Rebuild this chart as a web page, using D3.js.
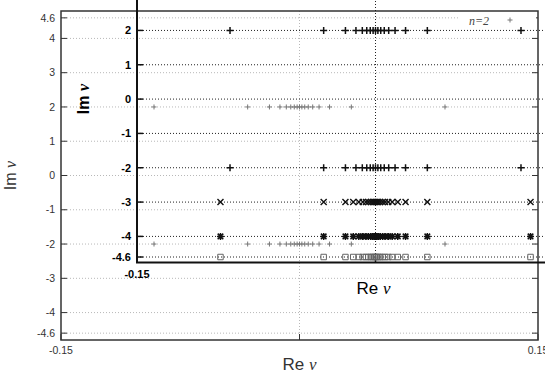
<!DOCTYPE html>
<html><head><meta charset="utf-8">
<script src="https://cdn.jsdelivr.net/npm/d3@7"></script>
<style>body{margin:0;background:#fff}svg{display:block}</style>
</head><body><svg id="c" width="545" height="382"></svg>
<script>
// ---- data ----
const yTicks = [4.6, 4, 3, 2, 1, 0, -1, -2, -3, -4, -4.6];
const xTickLabels = [-0.15, 0.15];
const xGridVals = [0];
// n=2 roots (Re parts), rows at Im = +2 and -2
const reN2 = [-0.0915, -0.0326, -0.0189, -0.0123, -0.0083, -0.0055, -0.0033, -0.0015, 0,
              0.0015, 0.0033, 0.0055, 0.0083, 0.0123, 0.0189, 0.0326, 0.0915];
const imN2 = [2, -2];
// wider rows
const reWide = [-0.0975, -0.0326, -0.0189, -0.0140, -0.0105, -0.0080, -0.0060, -0.0045, -0.0030, -0.0018, -0.0008, 0,
                0.0008, 0.0018, 0.0030, 0.0045, 0.0060, 0.0080, 0.0105, 0.0140, 0.0189, 0.0326, 0.0975];
const imN3 = [-3];
const imN4 = [-4];
const imN5 = [-4.6];
const legendLabel = "n=2";

// ---- custom symbols ----
const symPlus = {draw(ctx, size){const s=Math.sqrt(size)/2; ctx.moveTo(-s,0);ctx.lineTo(s,0);ctx.moveTo(0,-s);ctx.lineTo(0,s);}};
const symX = {draw(ctx, size){const s=Math.sqrt(size)/2; ctx.moveTo(-s,-s);ctx.lineTo(s,s);ctx.moveTo(-s,s);ctx.lineTo(s,-s);}};
const symStar = {draw(ctx, size){const s=Math.sqrt(size)/2; const t=s*0.8;
  ctx.moveTo(-s,0);ctx.lineTo(s,0);ctx.moveTo(0,-s);ctx.lineTo(0,s);
  ctx.moveTo(-t,-t);ctx.lineTo(t,t);ctx.moveTo(-t,t);ctx.lineTo(t,-t);}};
const symBox = {draw(ctx, size){const s=Math.sqrt(size)/2; ctx.rect(-s,-s,2*s,2*s);}};

const svg = d3.select("#c");

function rows(res, ims){ const out=[]; ims.forEach(im=>res.forEach(re=>out.push([re,im]))); return out; }

function panel(g, x, y, st){
  const [x0,x1] = x.range(); const [yb,yt] = y.range();
  const left=x0, right=Math.min(x1,545), bottom=yb, top=Math.max(yt,-5);
  g.selectAll(".gy").data(yTicks).join("line")
    .attr("x1",left).attr("x2",right).attr("y1",d=>y(d)).attr("y2",d=>y(d))
    .attr("stroke",st.grid).attr("stroke-width",1).attr("stroke-dasharray",st.dash);
  g.selectAll(".gx").data(xGridVals).join("line")
    .attr("x1",d=>x(d)).attr("x2",d=>x(d)).attr("y1",top).attr("y2",bottom)
    .attr("stroke",st.grid).attr("stroke-width",1).attr("stroke-dasharray",st.dash);
}

function frameAndText(g, x, y, st){
  const [x0,x1] = x.range(); const [yb,yt] = y.range();
  const right=x1, top=yt;
  g.append("rect").attr("x",x0).attr("y",top).attr("width",x1-x0).attr("height",yb-top)
    .attr("fill","none").attr("stroke",st.frame).attr("stroke-width",st.fw);
  yTicks.forEach(v=>{
    g.append("line").attr("x1",x0).attr("x2",x0+6).attr("y1",y(v)).attr("y2",y(v)).attr("stroke",st.frame).attr("stroke-width",st.tw);
    g.append("line").attr("x1",right).attr("x2",right-6).attr("y1",y(v)).attr("y2",y(v)).attr("stroke",st.frame).attr("stroke-width",st.tw);
  });
  xTickLabels.concat(xGridVals).forEach(v=>{
    g.append("line").attr("x1",x(v)).attr("x2",x(v)).attr("y1",yb).attr("y2",yb-6).attr("stroke",st.frame).attr("stroke-width",st.tw);
  });
  g.selectAll(".yl").data(yTicks).join("text")
    .attr("x",x0-st.labGap).attr("y",d=>y(d)).attr("dy","0.35em").attr("text-anchor","end")
    .attr("font-family","Liberation Sans, Arial, sans-serif").attr("font-size",st.fs).attr("font-weight",st.fwt)
    .attr("fill",st.text).text(d=>String(d));
  g.selectAll(".xl").data(xTickLabels).join("text")
    .attr("x",d=>x(d)).attr("y",yb+st.xlab).attr("text-anchor","middle")
    .attr("font-family","Liberation Sans, Arial, sans-serif").attr("font-size",st.fs).attr("font-weight",st.fwt)
    .attr("fill",st.text).text(d=>String(d));
  const xt = g.append("text").attr("x",x(0)+st.reDx).attr("y",yb+st.reDy).attr("text-anchor","middle")
    .attr("font-family","Liberation Sans, Arial, sans-serif").attr("font-size",17).attr("fill",st.text);
  xt.append("tspan").text("Re ");
  xt.append("tspan").attr("font-family","Liberation Serif, Times New Roman, serif").attr("font-style","italic").attr("font-size",17).text("ν");
  const yt2 = g.append("text").attr("transform",`translate(${st.imX},${y(0)}) rotate(-90)`).attr("text-anchor","middle")
    .attr("font-family","Liberation Sans, Arial, sans-serif").attr("font-size",16).attr("font-weight",st.imW).attr("fill",st.text);
  yt2.append("tspan").text("Im ");
  yt2.append("tspan").attr("font-family","Liberation Serif, Times New Roman, serif").attr("font-style","italic").attr("font-size",16).text("ν");
}

function points(g, x, y, data, type, size, color, sw){
  g.append("g").selectAll("path").data(data).join("path")
    .attr("transform",d=>`translate(${x(d[0])},${y(d[1])})`)
    .attr("d",d3.symbol().type(type).size(size))
    .attr("fill","none").attr("stroke",color).attr("stroke-width",sw);
}

// ---- outer (light) chart ----
const xo = d3.scaleLinear([-0.15,0.15],[61,538]);
const yo = d3.scaleLinear([-4.8,4.8],[340,11]);
const go = svg.append("g");
const stO = {grid:"#b8b8b8", dash:"1,2", frame:"#333", fw:1.5, tw:1, text:"#333", fs:10.5, fwt:"normal", labGap:6, xlab:14, reDx:0, reDy:30, imX:16, imW:"normal"};
panel(go, xo, yo, stO);
frameAndText(go, xo, yo, stO);
points(go, xo, yo, rows(reN2, imN2), symPlus, 25, "#777", 1);
// legend
go.append("rect").attr("x",458).attr("y",12).attr("width",78).attr("height",16).attr("fill","#fff");
go.append("text").attr("x",489).attr("y",25).attr("text-anchor","end")
  .attr("font-family","Liberation Serif, Times New Roman, serif").attr("font-style","italic").attr("font-size",12)
  .attr("fill","#444").text(legendLabel);
go.append("path").attr("transform","translate(510,20)").attr("d",d3.symbol().type(symPlus).size(25))
  .attr("fill","none").attr("stroke","#777").attr("stroke-width",1);

// ---- inner (bold) chart ----
const xi = d3.scaleLinear([-0.15,0.15],[137,614]);
const yi = d3.scaleLinear([-4.76,4.8],[262.5,-65.7]);
const gi = svg.append("g");
const stI = {grid:"#222", dash:"1,2", frame:"#111", fw:2, tw:1.5, text:"#000", fs:11, fwt:"bold", labGap:6, xlab:15, reDx:-2, reDy:31, imX:89, imW:"bold"};
panel(gi, xi, yi, stI);
frameAndText(gi, xi, yi, stI);
points(gi, xi, yi, rows(reN2, imN2), symPlus, 49, "#111", 1.5);
points(gi, xi, yi, rows(reWide, imN3), symX, 36, "#111", 1.4);
points(gi, xi, yi, rows(reWide, imN4), symStar, 49, "#111", 1.5);
points(gi, xi, yi, rows(reWide, imN5), symBox, 30, "#666", 1);
</script></body></html>
